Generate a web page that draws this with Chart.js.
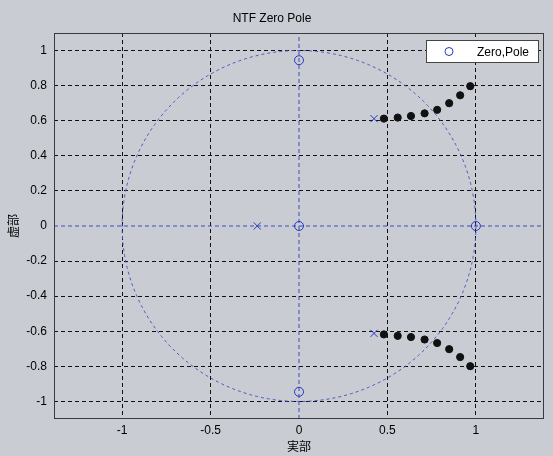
<!DOCTYPE html>
<html>
<head>
<meta charset="utf-8">
<script src="https://cdn.jsdelivr.net/npm/chart.js@4"></script>
<style>
  html, body { margin: 0; padding: 0; background: #c9ccd3; }
  #wrap { width: 553px; height: 456px; }
</style>
</head>
<body>
<div id="wrap"><canvas id="pz"></canvas></div>
<script>
// zeros (o), poles (x) and the dots
const zeroX = [0, 0, 0, 1];
const zeroY = [0.945, 0, -0.945, 0];
const poleX = [-0.236, 0.424, 0.424];
const poleY = [0, 0.612, -0.612];
const dotX = [0.48, 0.558, 0.633, 0.71, 0.781, 0.849, 0.911, 0.968];
const dotUpperY = [0.612, 0.618, 0.627, 0.642, 0.662, 0.7, 0.745, 0.797];
const dotLowerY = [-0.618, -0.626, -0.633, -0.647, -0.667, -0.702, -0.747, -0.799];
const xTicks = [-1, -0.5, 0, 0.5, 1];
const yTicks = [-1, -0.8, -0.6, -0.4, -0.2, 0, 0.2, 0.4, 0.6, 0.8, 1];
const xRange = [-1.385, 1.385];
const yRange = [-1.1, 1.1];
const unitRadius = 1;

function pts(xs, ys) {
    return xs.map((x, i) => ({ x: x, y: ys[i] }));
}

const blue = '#2a36c0';
const font = { family: 'Liberation Sans, Arial, sans-serif', size: 12 };
const jpFont = { family: '"Noto Sans CJK JP", sans-serif', size: 12 };

// no black grid line under the blue axis lines at 0
const gridColor = ctx => (ctx.tick && ctx.tick.value === 0) ? 'rgba(0,0,0,0)' : '#111';

const pzPlugin = {
    id: 'pzPlugin',
    beforeDatasetsDraw(chart) {
        const ctx = chart.ctx;
        const xs = chart.scales.x, ys = chart.scales.y;
        const cx = xs.getPixelForValue(0), cy = ys.getPixelForValue(0);
        const rx = xs.getPixelForValue(unitRadius) - cx;
        const ry = cy - ys.getPixelForValue(unitRadius);
        ctx.save();
        ctx.strokeStyle = '#4a58c0';
        ctx.lineWidth = 1;
        ctx.setLineDash([3, 3]);
        ctx.beginPath();
        ctx.ellipse(cx, cy, rx, ry, 0, 0, Math.PI * 2);
        ctx.stroke();
        ctx.restore();
    },
    afterDraw(chart) {
        const ctx = chart.ctx;
        const a = chart.chartArea;
        ctx.save();
        ctx.strokeStyle = '#3a3a3a';
        ctx.lineWidth = 1;
        ctx.strokeRect(a.left + 0.5, a.top + 0.5, a.right - a.left - 1, a.bottom - a.top - 1);
        // legend box
        const lx = 426.5, ly = 40.5, lw = 112, lh = 22;
        ctx.fillStyle = '#ffffff';
        ctx.fillRect(lx, ly, lw, lh);
        ctx.strokeStyle = '#444';
        ctx.strokeRect(lx, ly, lw, lh);
        ctx.strokeStyle = blue;
        ctx.beginPath();
        ctx.arc(449, ly + lh / 2, 4, 0, Math.PI * 2);
        ctx.stroke();
        ctx.fillStyle = '#000';
        ctx.font = '12px ' + font.family;
        ctx.textBaseline = 'middle';
        ctx.fillText('Zero,Pole', 477, ly + lh / 2 + 1);
        ctx.restore();
    }
};

new Chart(document.getElementById('pz'), {
    type: 'scatter',
    data: {
        datasets: [
            {
                label: 'Zero,Pole',
                data: pts(zeroX, zeroY),
                pointStyle: 'circle',
                pointRadius: 4.5,
                borderColor: blue,
                backgroundColor: 'rgba(0,0,0,0)',
                borderWidth: 1
            },
            {
                label: 'poles',
                data: pts(poleX, poleY),
                pointStyle: 'crossRot',
                pointRadius: 5,
                borderColor: blue,
                borderWidth: 1
            },
            {
                label: 'upper',
                data: pts(dotX, dotUpperY),
                pointStyle: 'circle',
                pointRadius: 3.6,
                backgroundColor: '#111',
                borderColor: '#111',
                borderWidth: 1
            },
            {
                label: 'lower',
                data: pts(dotX, dotLowerY),
                pointStyle: 'circle',
                pointRadius: 3.6,
                backgroundColor: '#111',
                borderColor: '#111',
                borderWidth: 1
            },
            {
                label: 'real axis',
                data: pts(xRange, [0, 0]),
                showLine: true,
                pointRadius: 0,
                borderColor: '#3e4cbc',
                borderWidth: 1,
                borderDash: [4, 3]
            },
            {
                label: 'imag axis',
                data: pts([0, 0], yRange),
                showLine: true,
                pointRadius: 0,
                borderColor: '#3e4cbc',
                borderWidth: 1,
                borderDash: [4, 3]
            }
        ]
    },
    options: {
        responsive: true,
        maintainAspectRatio: false,
        animation: false,
        layout: { padding: { left: 0, right: 9, top: 0, bottom: 0 } },
        plugins: {
            legend: { display: false },
            tooltip: { enabled: false },
            title: {
                display: true,
                text: 'NTF Zero Pole',
                color: '#000',
                font: { family: font.family, size: 12, weight: 'normal' },
                padding: { top: 11, bottom: 7.6 }
            }
        },
        scales: {
            x: {
                type: 'linear',
                min: xRange[0],
                max: xRange[1],
                afterFit(s) { s.height = 37; },
                afterBuildTicks(s) { s.ticks = xTicks.map(v => ({ value: v })); },
                grid: { color: gridColor, drawTicks: false, lineWidth: 1 },
                border: { display: false, dash: [4, 3] },
                ticks: {
                    color: '#000',
                    font: font,
                    padding: 4,
                    callback: v => String(v)
                },
                title: {
                    display: true,
                    text: '実部',
                    color: '#000',
                    font: jpFont,
                    padding: { top: 0, bottom: 2 }
                }
            },
            y: {
                type: 'linear',
                min: yRange[0],
                max: yRange[1],
                afterFit(s) { s.width = 54; },
                afterBuildTicks(s) { s.ticks = yTicks.map(v => ({ value: v })); },
                grid: { color: gridColor, drawTicks: false, lineWidth: 1 },
                border: { display: false, dash: [4, 3] },
                ticks: {
                    color: '#000',
                    font: font,
                    padding: 7,
                    callback: v => String(Number(v.toFixed(1)))
                },
                title: {
                    display: true,
                    text: '虚部',
                    color: '#000',
                    font: jpFont,
                    padding: { top: 6, bottom: 0 }
                }
            }
        }
    },
    plugins: [pzPlugin]
});
</script>
</body>
</html>
